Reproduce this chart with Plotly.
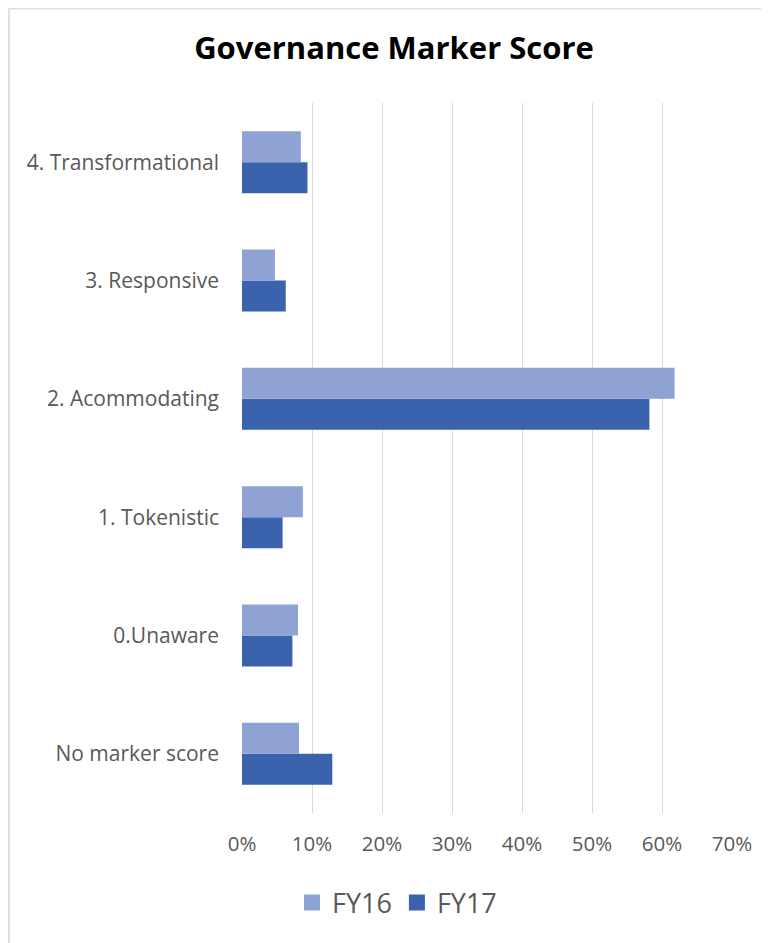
import plotly.graph_objects as go

categories = ["No marker score", "0.Unaware", "1. Tokenistic", "2. Acommodating",
              "3. Responsive", "4. Transformational"]
fy16 = [0.0815, 0.080, 0.087, 0.618, 0.047, 0.084]
fy17 = [0.129, 0.072, 0.058, 0.582, 0.0625, 0.0935]
x_ticks = [0, 0.1, 0.2, 0.3, 0.4, 0.5, 0.6, 0.7]

FONT = "Open Sans"
GRAY = "#595959"
C16 = "#8FA2D4"
C17 = "#3A62AD"

# figure is drawn inside the page's 8px body margin
W, H = 761, 935
L, R, T, B = 234, 37, 95, 130
PW, PH = W - L - R, H - T - B

fig = go.Figure()
fig.add_trace(go.Bar(y=categories, x=fy17, name="FY17", orientation="h",
                     marker=dict(color=C17, line=dict(width=0)), showlegend=False))
fig.add_trace(go.Bar(y=categories, x=fy16, name="FY16", orientation="h",
                     marker=dict(color=C16, line=dict(width=0)), showlegend=False))
# legend entries with larger square swatches
fig.add_trace(go.Scatter(x=[None], y=[None], mode="markers", name="FY16",
                         marker=dict(symbol="square", size=18, color=C16), legendrank=1))
fig.add_trace(go.Scatter(x=[None], y=[None], mode="markers", name="FY17",
                         marker=dict(symbol="square", size=18, color=C17), legendrank=2))

fig.update_layout(
    width=W, height=H,
    margin=dict(l=L, r=R, t=T, b=B),
    paper_bgcolor="white", plot_bgcolor="white",
    barmode="group", bargap=0.476, bargroupgap=0,
    title=dict(text="<b>Governance Marker Score</b>", x=386 / W, xanchor="center",
               y=1 - 40 / H, yanchor="middle",
               font=dict(family=FONT, size=31, color="black")),
    xaxis=dict(range=[0, 0.7], tickvals=x_ticks, tickformat=".0%",
               showgrid=True, gridcolor="#D9D9D9", gridwidth=1.3,
               zeroline=False, showline=False,
               tickfont=dict(family=FONT, size=20.5, color=GRAY),
               ticklabelstandoff=16, fixedrange=True),
    yaxis=dict(categoryorder="array", categoryarray=categories,
               showgrid=False, showline=False, zeroline=False,
               tickfont=dict(family=FONT, size=21, color=GRAY),
               ticklabelstandoff=22, fixedrange=True),
    legend=dict(orientation="h", x=(389 - L) / PW, xanchor="center",
                y=(PH - 895 + T) / PH, yanchor="middle",
                font=dict(family=FONT, size=27, color=GRAY),
                itemsizing="trace", itemwidth=30, traceorder="normal"),
    shapes=[dict(type="rect", xref="paper", yref="paper",
                 x0=(1 - L) / PW, x1=(W + 10 - L) / PW,
                 y0=-(B + 10) / PH, y1=(PH + T - 0.5) / PH,
                 line=dict(color="#E0E0E0", width=2), layer="below")],
)

fig.write_html("out.html")
